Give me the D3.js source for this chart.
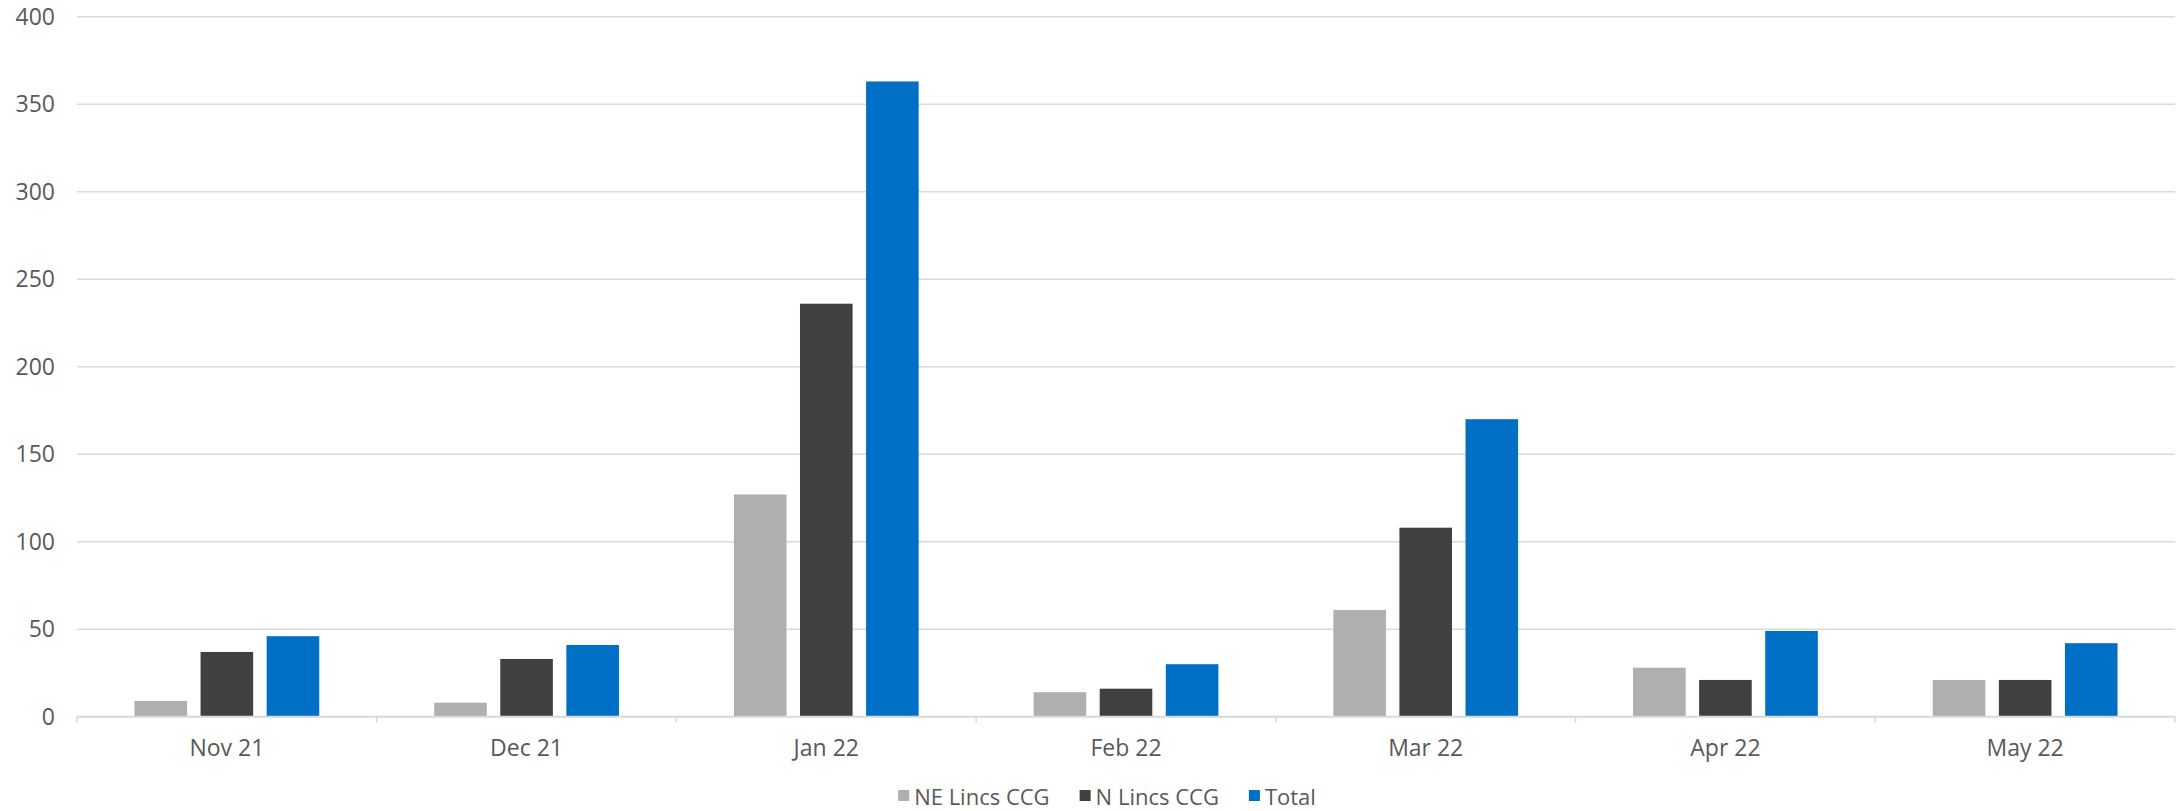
<!DOCTYPE html>
<html>
<head>
<meta charset="utf-8">
<script src="https://cdn.jsdelivr.net/npm/d3@7/dist/d3.min.js"></script>
<style>
  html, body { margin: 0; padding: 0; background: #ffffff; }
  svg { display: block; }
  text { font-family: "Open Sans", "Noto Sans", sans-serif; fill: #595959; }
</style>
</head>
<body>
<svg id="chart" width="2178" height="811"></svg>
<script>
const categories = ["Nov 21", "Dec 21", "Jan 22", "Feb 22", "Mar 22", "Apr 22", "May 22"];
const seriesNames = ["NE Lincs CCG", "N Lincs CCG", "Total"];
const neLincs = [9, 8, 127, 14, 61, 28, 21];
const nLincs = [37, 33, 236, 16, 108, 21, 21];
const total = [46, 41, 363, 30, 170, 49, 42];
const yTicks = [0, 50, 100, 150, 200, 250, 300, 350, 400];
const colors = ["#afafaf", "#404040", "#006fc6"];

const seriesValues = [neLincs, nLincs, total];

(function () {
const svg = d3.select("#chart");
const plotLeft = 77, plotRight = 2175, plotTop = 16.7, plotBottom = 716.7;
const fs = 23;

const x0 = d3.scaleBand().domain(categories).range([plotLeft, plotRight]).paddingInner(0).paddingOuter(0);
const bw = x0.bandwidth();
const barW = bw * 0.1755, gap = bw * 0.045;
const group = 3 * barW + 2 * gap;
const x1 = d3.scaleBand().domain(seriesNames)
  .range([(bw - group) / 2, (bw + group) / 2])
  .paddingInner(gap / (barW + gap)).paddingOuter(0);

const y = d3.scaleLinear().domain([0, 400]).range([plotBottom, plotTop]);

// gridlines
svg.append("g").selectAll("line").data(yTicks.filter(d => d > 0)).join("line")
  .attr("x1", plotLeft).attr("x2", plotRight)
  .attr("y1", d => y(d)).attr("y2", d => y(d))
  .attr("stroke", "#d9d9d9").attr("stroke-width", 1.5);

// y axis labels
const yAxis = d3.axisLeft(y).tickValues(yTicks).tickSize(0).tickPadding(0);
const yg = svg.append("g").attr("transform", `translate(55,0)`).call(yAxis);
yg.select(".domain").remove();
yg.selectAll("text").attr("font-size", fs).attr("fill", "#595959")
  .style("font-family", '"Open Sans", "Noto Sans", sans-serif');

// bars
const groups = svg.append("g").selectAll("g").data(categories).join("g")
  .attr("transform", d => `translate(${x0(d)},0)`);
groups.selectAll("rect").data((c, i) => seriesNames.map((s, k) => ({ s, k, v: seriesValues[k][i] })))
  .join("rect")
  .attr("x", d => x1(d.s))
  .attr("width", x1.bandwidth())
  .attr("y", d => y(d.v))
  .attr("height", d => y(0) - y(d.v))
  .attr("fill", d => colors[d.k]);

// x axis line
svg.append("line").attr("x1", plotLeft).attr("x2", plotRight).attr("y1", plotBottom).attr("y2", plotBottom)
  .attr("stroke", "#d9d9d9").attr("stroke-width", 2);
// boundary ticks
const bounds = categories.map(c => x0(c)).concat([plotRight]);
svg.append("g").selectAll("line").data(bounds).join("line")
  .attr("x1", d => d).attr("x2", d => d)
  .attr("y1", plotBottom).attr("y2", plotBottom + 6)
  .attr("stroke", "#d9d9d9").attr("stroke-width", 1.5);

// x labels
svg.append("g").selectAll("text").data(categories).join("text")
  .attr("x", d => x0(d) + bw / 2).attr("y", 756)
  .attr("text-anchor", "middle").attr("font-size", fs)
  .text(d => d);

// legend
const lg = svg.append("g");
const items = lg.selectAll("g").data(seriesNames).join("g");
items.append("rect").attr("width", 11).attr("height", 11).attr("y", 790)
  .attr("fill", (d, i) => colors[i]);
items.append("text").attr("y", 805).attr("font-size", 22).text(d => d);
let cx = 0;
items.each(function (d, i) {
  const tw = d3.select(this).select("text").node().getComputedTextLength();
  d3.select(this).select("rect").attr("x", cx);
  d3.select(this).select("text").attr("x", cx + 16);
  cx += 16 + tw + 30;
});
const legendW = cx - 30;
lg.attr("transform", `translate(${1107 - legendW / 2},0)`);
})();
</script>
</body>
</html>
